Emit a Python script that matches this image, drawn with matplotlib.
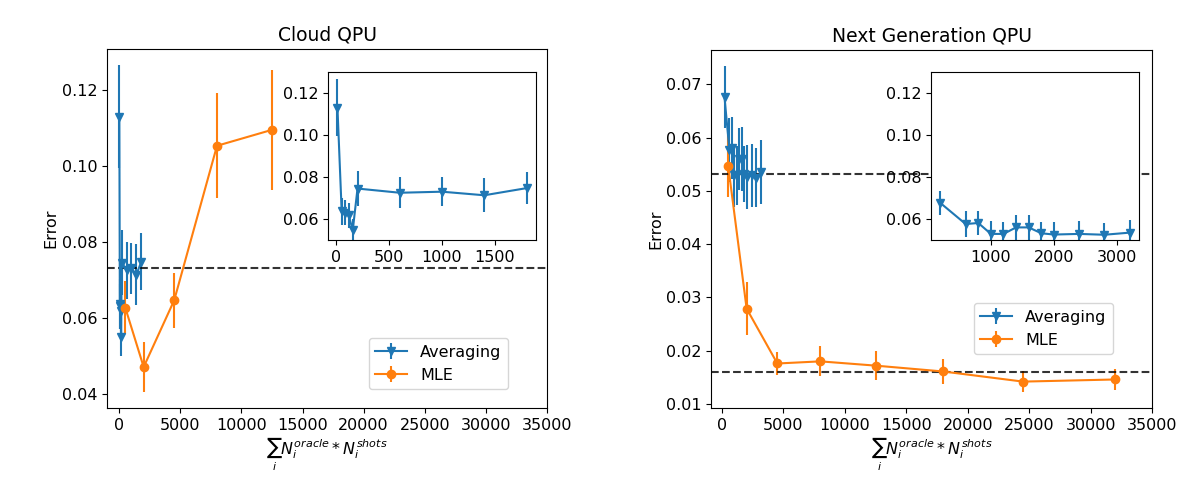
import numpy as np
import matplotlib
matplotlib.use('Agg')
import matplotlib.pyplot as plt

# Cloud QPU
cloud_avg_x = [10, 50, 85, 115, 155, 200, 600, 1000, 1400, 1800]
cloud_avg_y = [0.113, 0.0636, 0.063, 0.0618, 0.0548, 0.0745, 0.0725, 0.073, 0.0713, 0.0747]
cloud_avg_err = [0.0135, 0.0066, 0.006, 0.006, 0.005, 0.0085, 0.0075, 0.0068, 0.008, 0.0075]

cloud_mle_x = [500, 2000, 4500, 8000, 12500]
cloud_mle_y = [0.0626, 0.047, 0.0646, 0.1053, 0.1095]
cloud_mle_err = [0.007, 0.0065, 0.0073, 0.0138, 0.0158]

cloud_ref = 0.073

# Next generation QPU
next_avg_x = [200, 600, 800, 1000, 1200, 1400, 1600, 1800, 2000, 2400, 2800, 3200]
next_avg_y = [0.0676, 0.0576, 0.0581, 0.0529, 0.0529, 0.056, 0.056, 0.0532, 0.0526, 0.0529, 0.0525, 0.0535]
next_avg_err = [0.0058, 0.006, 0.0058, 0.006, 0.0055, 0.0058, 0.006, 0.0052, 0.006, 0.006, 0.0055, 0.006]

next_mle_x = [500, 2000, 4500, 8000, 12500, 18000, 24500, 32000]
next_mle_y = [0.0547, 0.0279, 0.0176, 0.018, 0.0172, 0.0161, 0.0142, 0.0146]
next_mle_err = [0.0058, 0.005, 0.0022, 0.0028, 0.0027, 0.0023, 0.0019, 0.0019]

next_ref_hi = 0.0532
next_ref_lo = 0.016

plt.rcParams['font.size'] = 11.5

W, H = 1200, 500
fig = plt.figure(figsize=(12, 5), dpi=100)

def box(x0, y0, x1, y1):
    # pixel box (top-left origin) -> figure fraction rect
    return [x0 / W, (H - y1) / H, (x1 - x0) / W, (y1 - y0) / H]

xlabel = r'$\sum_i N_i^{oracle} * N_i^{shots}$'

def panel(main_rect, inset_rect, title, avg, mle, refs, xleft, leg_anchor):
    ax = fig.add_axes(box(*main_rect))
    ax.errorbar(avg[0], avg[1], yerr=avg[2], marker='v', label='Averaging')
    ax.errorbar(mle[0], mle[1], yerr=mle[2], marker='o', label='MLE')
    for r in refs:
        ax.axhline(r, color='k', ls='--', alpha=0.8, lw=1.5)
    ax.set_xlim(xleft, 35000)
    ax.set_title(title, fontsize=13.5)
    ax.set_ylabel('Error', labelpad=2)
    ax.set_xlabel(xlabel, labelpad=2)
    ax.legend(loc='lower right', bbox_to_anchor=leg_anchor, borderaxespad=0)

    ins = fig.add_axes(box(*inset_rect))
    ins.errorbar(avg[0], avg[1], yerr=avg[2], marker='v')
    ins.set_ylim(0.05, 0.13)
    ins.set_yticks([0.06, 0.08, 0.10, 0.12])
    return ax, ins

panel((107, 49, 547, 408), (328, 72, 536, 240), 'Cloud QPU',
      (cloud_avg_x, cloud_avg_y, cloud_avg_err),
      (cloud_mle_x, cloud_mle_y, cloud_mle_err),
      [cloud_ref], -1000, (0.911, 0.053))

ax2, ins2 = panel((711, 50, 1152, 408), (931, 72, 1139, 240), 'Next Generation QPU',
      (next_avg_x, next_avg_y, next_avg_err),
      (next_mle_x, next_mle_y, next_mle_err),
      [next_ref_hi, next_ref_lo], -900, (0.911, 0.151))
ins2.set_xticks([1000, 2000, 3000])

fig.savefig('out.png', dpi=100)
